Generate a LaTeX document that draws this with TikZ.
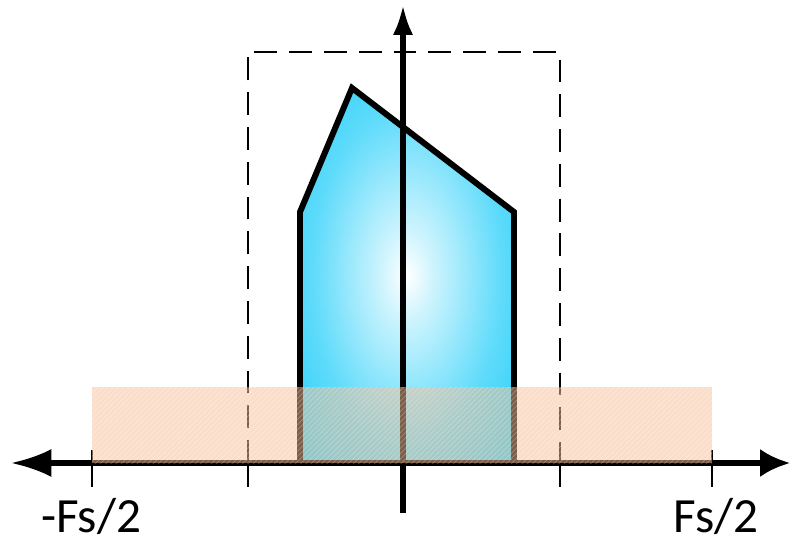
\documentclass[tikz,border=0pt]{standalone}
\usepackage{fontspec}
\setmainfont{Carlito}
\usetikzlibrary{arrows.meta,patterns}
\definecolor{skyblue}{RGB}{10,200,248}
\definecolor{peach}{RGB}{248,190,150}
\pgfdeclareradialshading{glow}{\pgfpoint{0bp}{0bp}}{%
  color(0bp)=(white); color(6bp)=(skyblue!20!white);
  color(22bp)=(skyblue!65!white); color(42bp)=(skyblue); color(80bp)=(skyblue)}
\begin{document}
\begin{tikzpicture}[x=0.02cm, y=-0.02cm,
  axis/.style={line width=2.9pt},
  tick/.style={line width=1.6pt},
  window/.style={line width=1.3pt, dash pattern=on 13pt off 6.8pt},
  lbl/.style={font=\fontsize{28}{33}\selectfont}]
  \useasboundingbox (0,0) rectangle (790,543);
  % spectrum
  \shadedraw[shading=glow, line width=3.4pt, line join=miter]
    (300,463) -- (300,212) -- (352,88) -- (514,212) -- (514,463) -- cycle;
  % filter window
  \draw[window] (248,463) -- (248,52) -- (560,52) -- (560,463);
  % axes
  \draw[axis, {Latex[length=23pt,width=16pt]}-{Latex[length=17pt,width=16pt]}]
    (11,463) -- (790,463);
  \draw[axis, -{Latex[length=17pt,width=11.5pt]}] (403,513) -- (403,5);
  \foreach \x in {92,248,560,712}
    \draw[tick] (\x,450) -- (\x,487);
  % band
  \fill[peach, opacity=.5] (92,387) rectangle (712,463);
  \fill[pattern=north east lines, pattern color=white, opacity=.25]
    (92,387) rectangle (712,463);
  \node[lbl] (fneg) at (91,516) {-Fs/2};
  \node[lbl] (fpos) at (716,516) {Fs/2};
\end{tikzpicture}
\end{document}
